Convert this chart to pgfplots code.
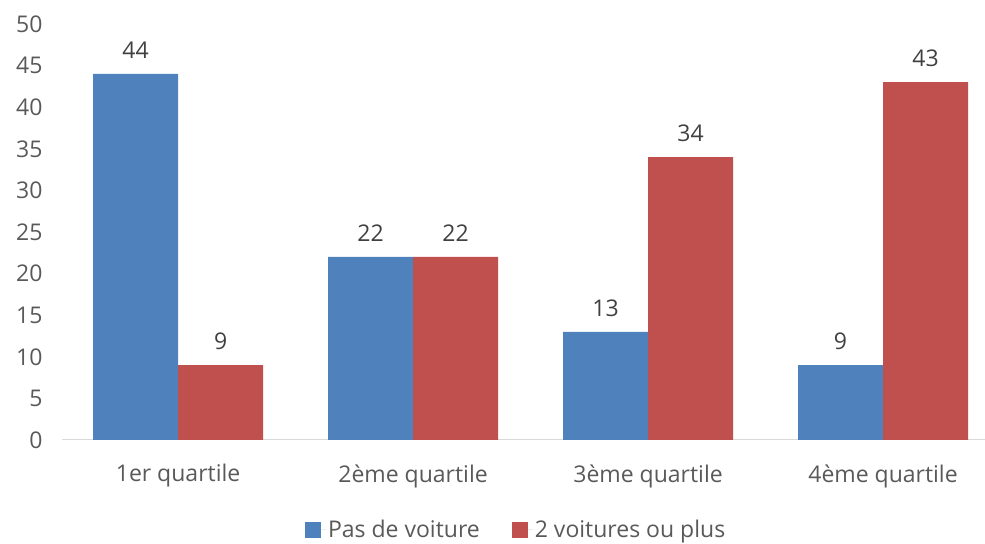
\documentclass[border=0pt]{standalone}
\usepackage{pgfplots}
\pgfplotsset{compat=1.18}
\usepackage{fontspec}
\setmainfont{Open Sans}
\definecolor{bblue}{HTML}{4F81BD}
\definecolor{rred}{HTML}{C0504D}
\definecolor{tickgray}{HTML}{595959}
\definecolor{lblgray}{HTML}{404040}
\definecolor{axgray}{HTML}{D9D9D9}
\newcommand{\chfont}{\fontsize{23bp}{27bp}\selectfont}
\begin{document}
\begin{tikzpicture}[x=1bp,y=1bp]
\useasboundingbox (0,0) rectangle (985,544);
\begin{axis}[
  at={(62bp,104bp)}, anchor=south west,
  scale only axis, width=923bp, height=416bp,
  xmin=-0.494, xmax=3.434, ymin=0, ymax=50,
  ybar=0pt, bar width=85bp,
  xtick={0,1,2,3},
  xticklabels={1er quartile, 2ème quartile, 3ème quartile, 4ème quartile},
  ytick={0,5,...,50},
  /pgf/number format/assume math mode=true,
  axis x line*=bottom, axis y line*=left,
  y axis line style={draw=none},
  x axis line style={draw=axgray, line width=1bp},
  tick style={draw=none},
  major tick length=0pt,
  ticklabel style={font=\chfont, text=tickgray},
  yticklabel style={xshift=-16bp},
  xticklabel style={yshift=-21bp},
  nodes near coords,
  every node near coord/.append style={font=\chfont, text=lblgray, yshift=12bp},
  legend style={at={(rel axis cs:0.492,-0.216)}, anchor=center, draw=none,
    font=\chfont, text=tickgray, legend columns=2,
    /tikz/every even column/.append style={column sep=30bp}},
  legend image code/.code={\fill[#1,draw=none] (0bp,-8bp) rectangle (16bp,8bp);\path (16bp,0bp) -- (21bp,0bp);},
]
\addplot[fill=bblue, draw=none] coordinates {(0,44) (1,22) (2,13) (3,9)};
\addplot[fill=rred, draw=none] coordinates {(0,9) (1,22) (2,34) (3,43)};
\legend{Pas de voiture, 2 voitures ou plus}
\end{axis}
\end{tikzpicture}
\end{document}
